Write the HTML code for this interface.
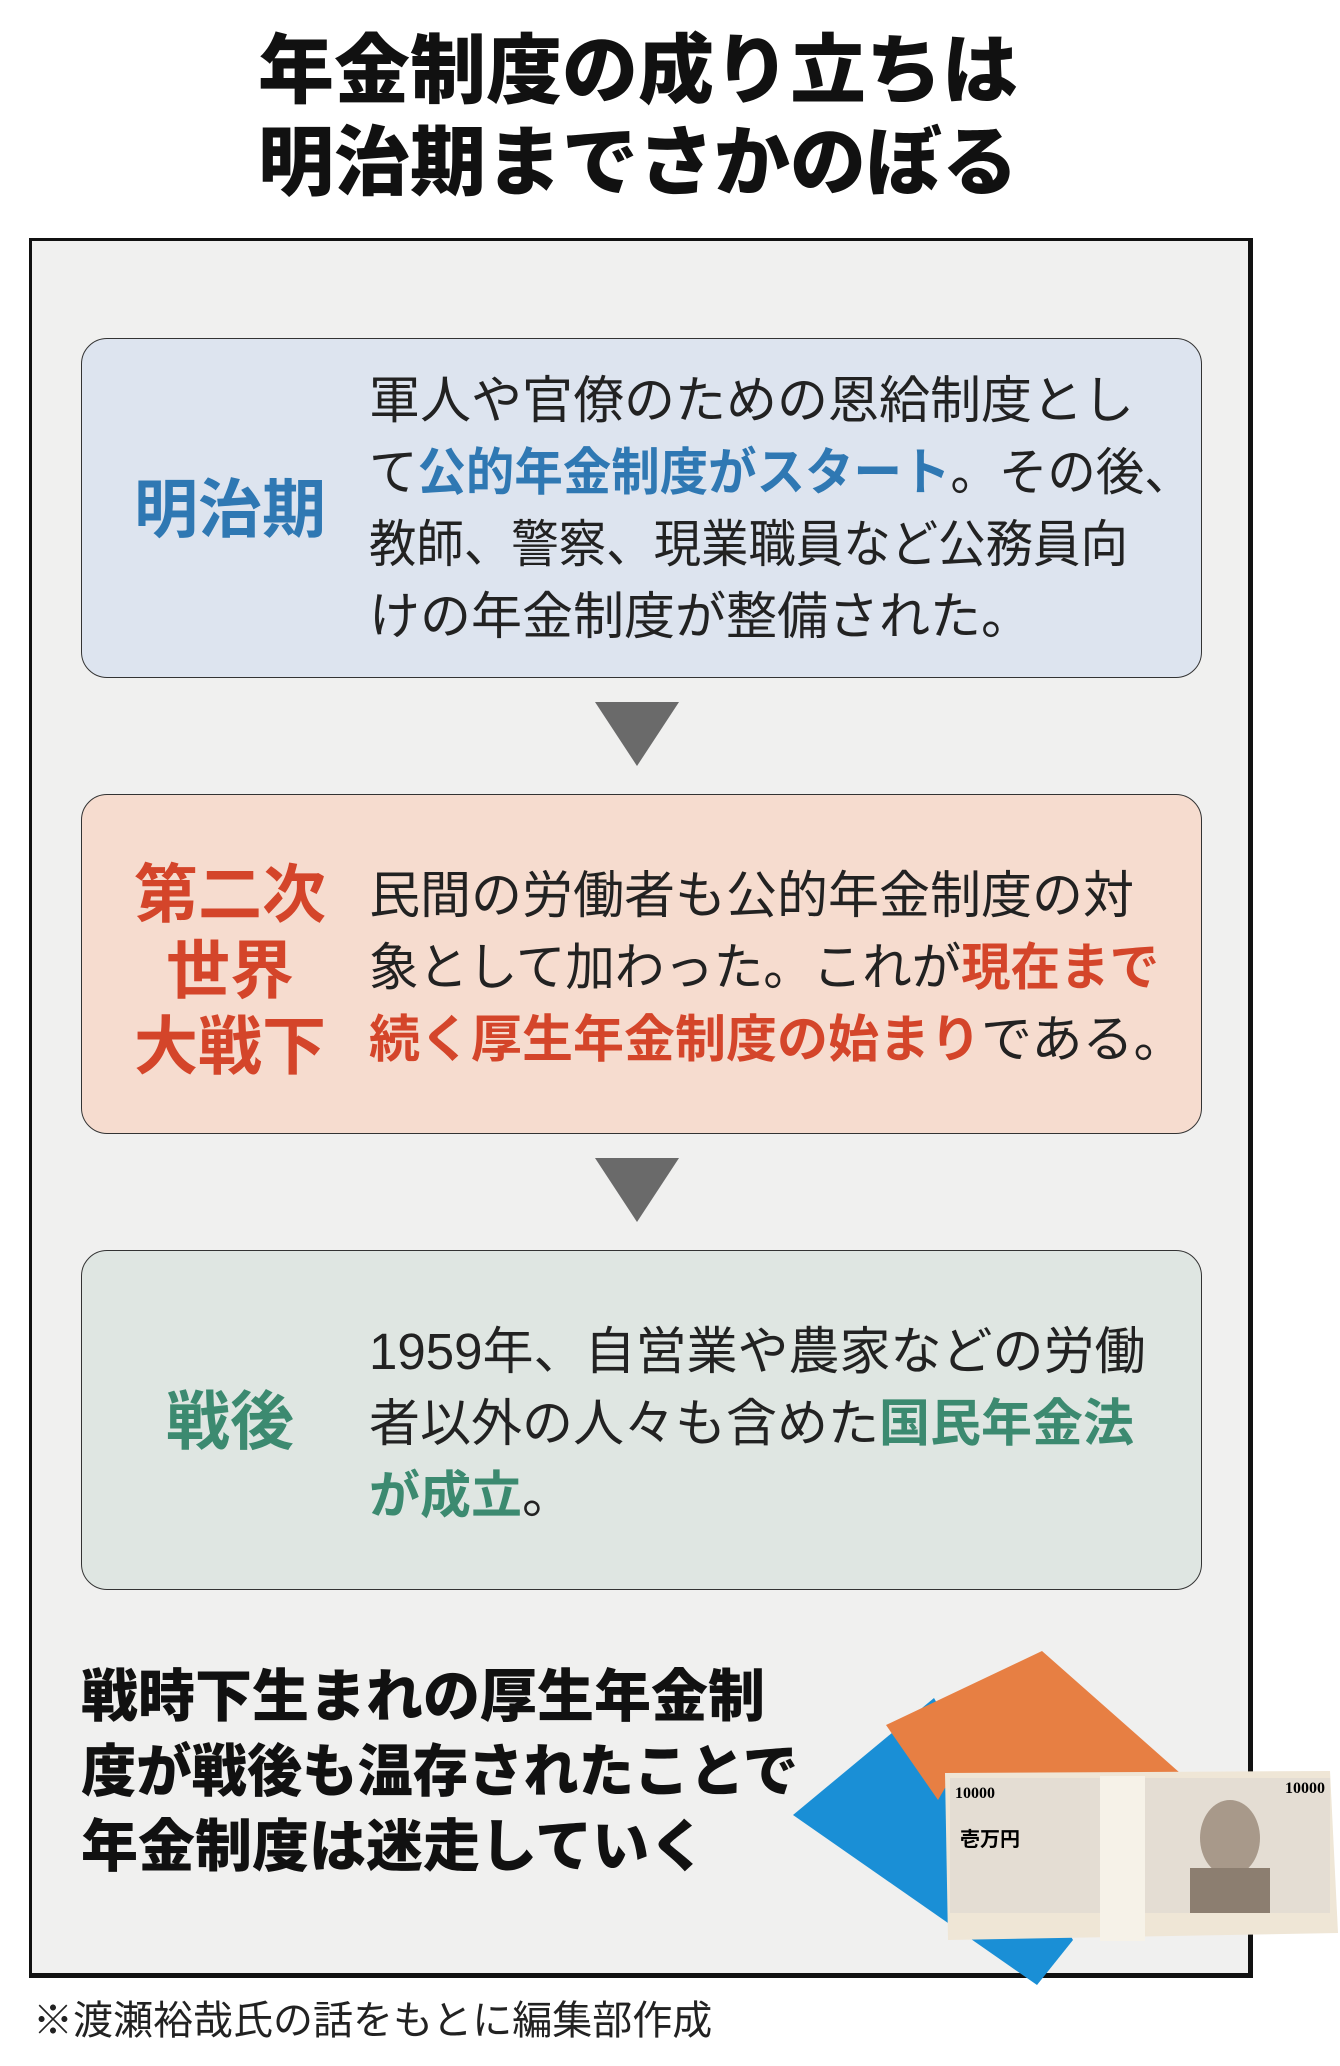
<!DOCTYPE html>
<html><head><meta charset="utf-8"><style>
*{margin:0;padding:0;box-sizing:border-box}
body{width:1340px;height:2066px;background:#fff;position:relative;overflow:hidden;font-family:"Liberation Sans","Noto Sans CJK JP",sans-serif}
.t{position:absolute;white-space:nowrap}
.title{left:0;width:1276px;text-align:center;font-weight:900;font-size:76px;color:#111;line-height:1}
.frame{position:absolute;left:29px;top:238px;width:1224px;height:1740px;border:3px solid #111;border-right-width:5px;border-bottom-width:5px;background:#f0f0ef}
.box{position:absolute;left:81px;width:1112px;height:340px;border:1.5px solid #333;border-radius:26px}
.lab{position:absolute;left:120px;width:220px;text-align:center;font-weight:700;font-size:64px;line-height:1}
.body{position:absolute;left:369px;font-size:51px;line-height:72px;color:#222;white-space:nowrap}
.body b{font-weight:700}
.sx{display:inline-block;transform:scaleX(0.95);transform-origin:left}
.arr{position:absolute;left:595px;width:0;height:0;border-left:42px solid transparent;border-right:42px solid transparent;border-top:64px solid #6a6a6a}
.bot{position:absolute;left:81px;top:1660px;font-size:57px;font-weight:900;line-height:75px;color:#111;white-space:nowrap}
</style></head><body>
<div class="t title" style="top:34px">年金制度の成り立ちは</div>
<div class="t title" style="top:126px">明治期までさかのぼる</div>
<div class="frame"></div>

<div class="box" style="top:338px;background:#dde4ef;width:1121px"></div>
<div class="lab" style="top:478px;color:#2f78b3">明治期</div>
<div class="body" style="top:365px">軍人や官僚のための恩給制度とし<br><span class="sx">て<b style="color:#2f78b3">公的年金制度がスタート</b>。その後、</span><br><span class="sx" style="transform:scaleX(0.93)">教師、警察、現業職員など公務員向</span><br>けの年金制度が整備された。</div>

<div class="arr" style="top:702px"></div>

<div class="box" style="top:794px;background:#f6dccf;width:1121px"></div>
<div class="lab" style="top:857px;color:#d4452a;line-height:76px">第二次<br>世界<br>大戦下</div>
<div class="body" style="top:860px">民間の労働者も公的年金制度の対<br><span class="sx" style="transform:scaleX(0.97)">象として加わった。これが<b style="color:#d4452a">現在まで</b></span><br><b style="color:#d4452a">続く厚生年金制度の始まり</b>である。</div>

<div class="arr" style="top:1158px"></div>

<div class="box" style="top:1250px;background:#dfe6e2;width:1121px"></div>
<div class="lab" style="top:1390px;color:#3c8a70">戦後</div>
<div class="body" style="top:1316px">1959年、自営業や農家などの労働<br>者以外の人々も含めた<b style="color:#3c8a70">国民年金法</b><br><b style="color:#3c8a70">が成立</b>。</div>

<div class="bot">戦時下生まれの厚生年金制<br><span class="sx" style="transform:scaleX(0.97)">度が戦後も温存されたことで</span><br>年金制度は迷走していく</div>

<svg style="position:absolute;left:0;top:0" width="1340" height="2066">
<polygon points="793,1815 934,1698 1073,1940 1037,1985" fill="#1a8fd6"/>
<polygon points="886,1725 1042,1651 1180,1773 945,1788 938,1800" fill="#e77f43"/>
<polygon points="945,1773 1330,1771 1338,1933 948,1940" fill="#efe6d6"/>
<rect x="950" y="1778" width="380" height="135" fill="#e4ddd3"/>
<rect x="1100" y="1776" width="45" height="165" fill="#f6f2e8"/>
<ellipse cx="1230" cy="1838" rx="30" ry="38" fill="#a8998a"/>
<rect x="1190" y="1868" width="80" height="45" fill="#8c7e70"/>
<text x="955" y="1798" font-size="16" font-weight="700" font-family="Liberation Serif,serif">10000</text>
<text x="1285" y="1793" font-size="16" font-weight="700" font-family="Liberation Serif,serif">10000</text>
<text x="960" y="1846" font-size="20" font-weight="700" font-family="Noto Sans CJK JP,sans-serif">壱万円</text>
</svg>

<div class="t" style="left:33px;top:1988px;font-size:40px;color:#222">※渡瀬裕哉氏の話をもとに編集部作成</div>
</body></html>
